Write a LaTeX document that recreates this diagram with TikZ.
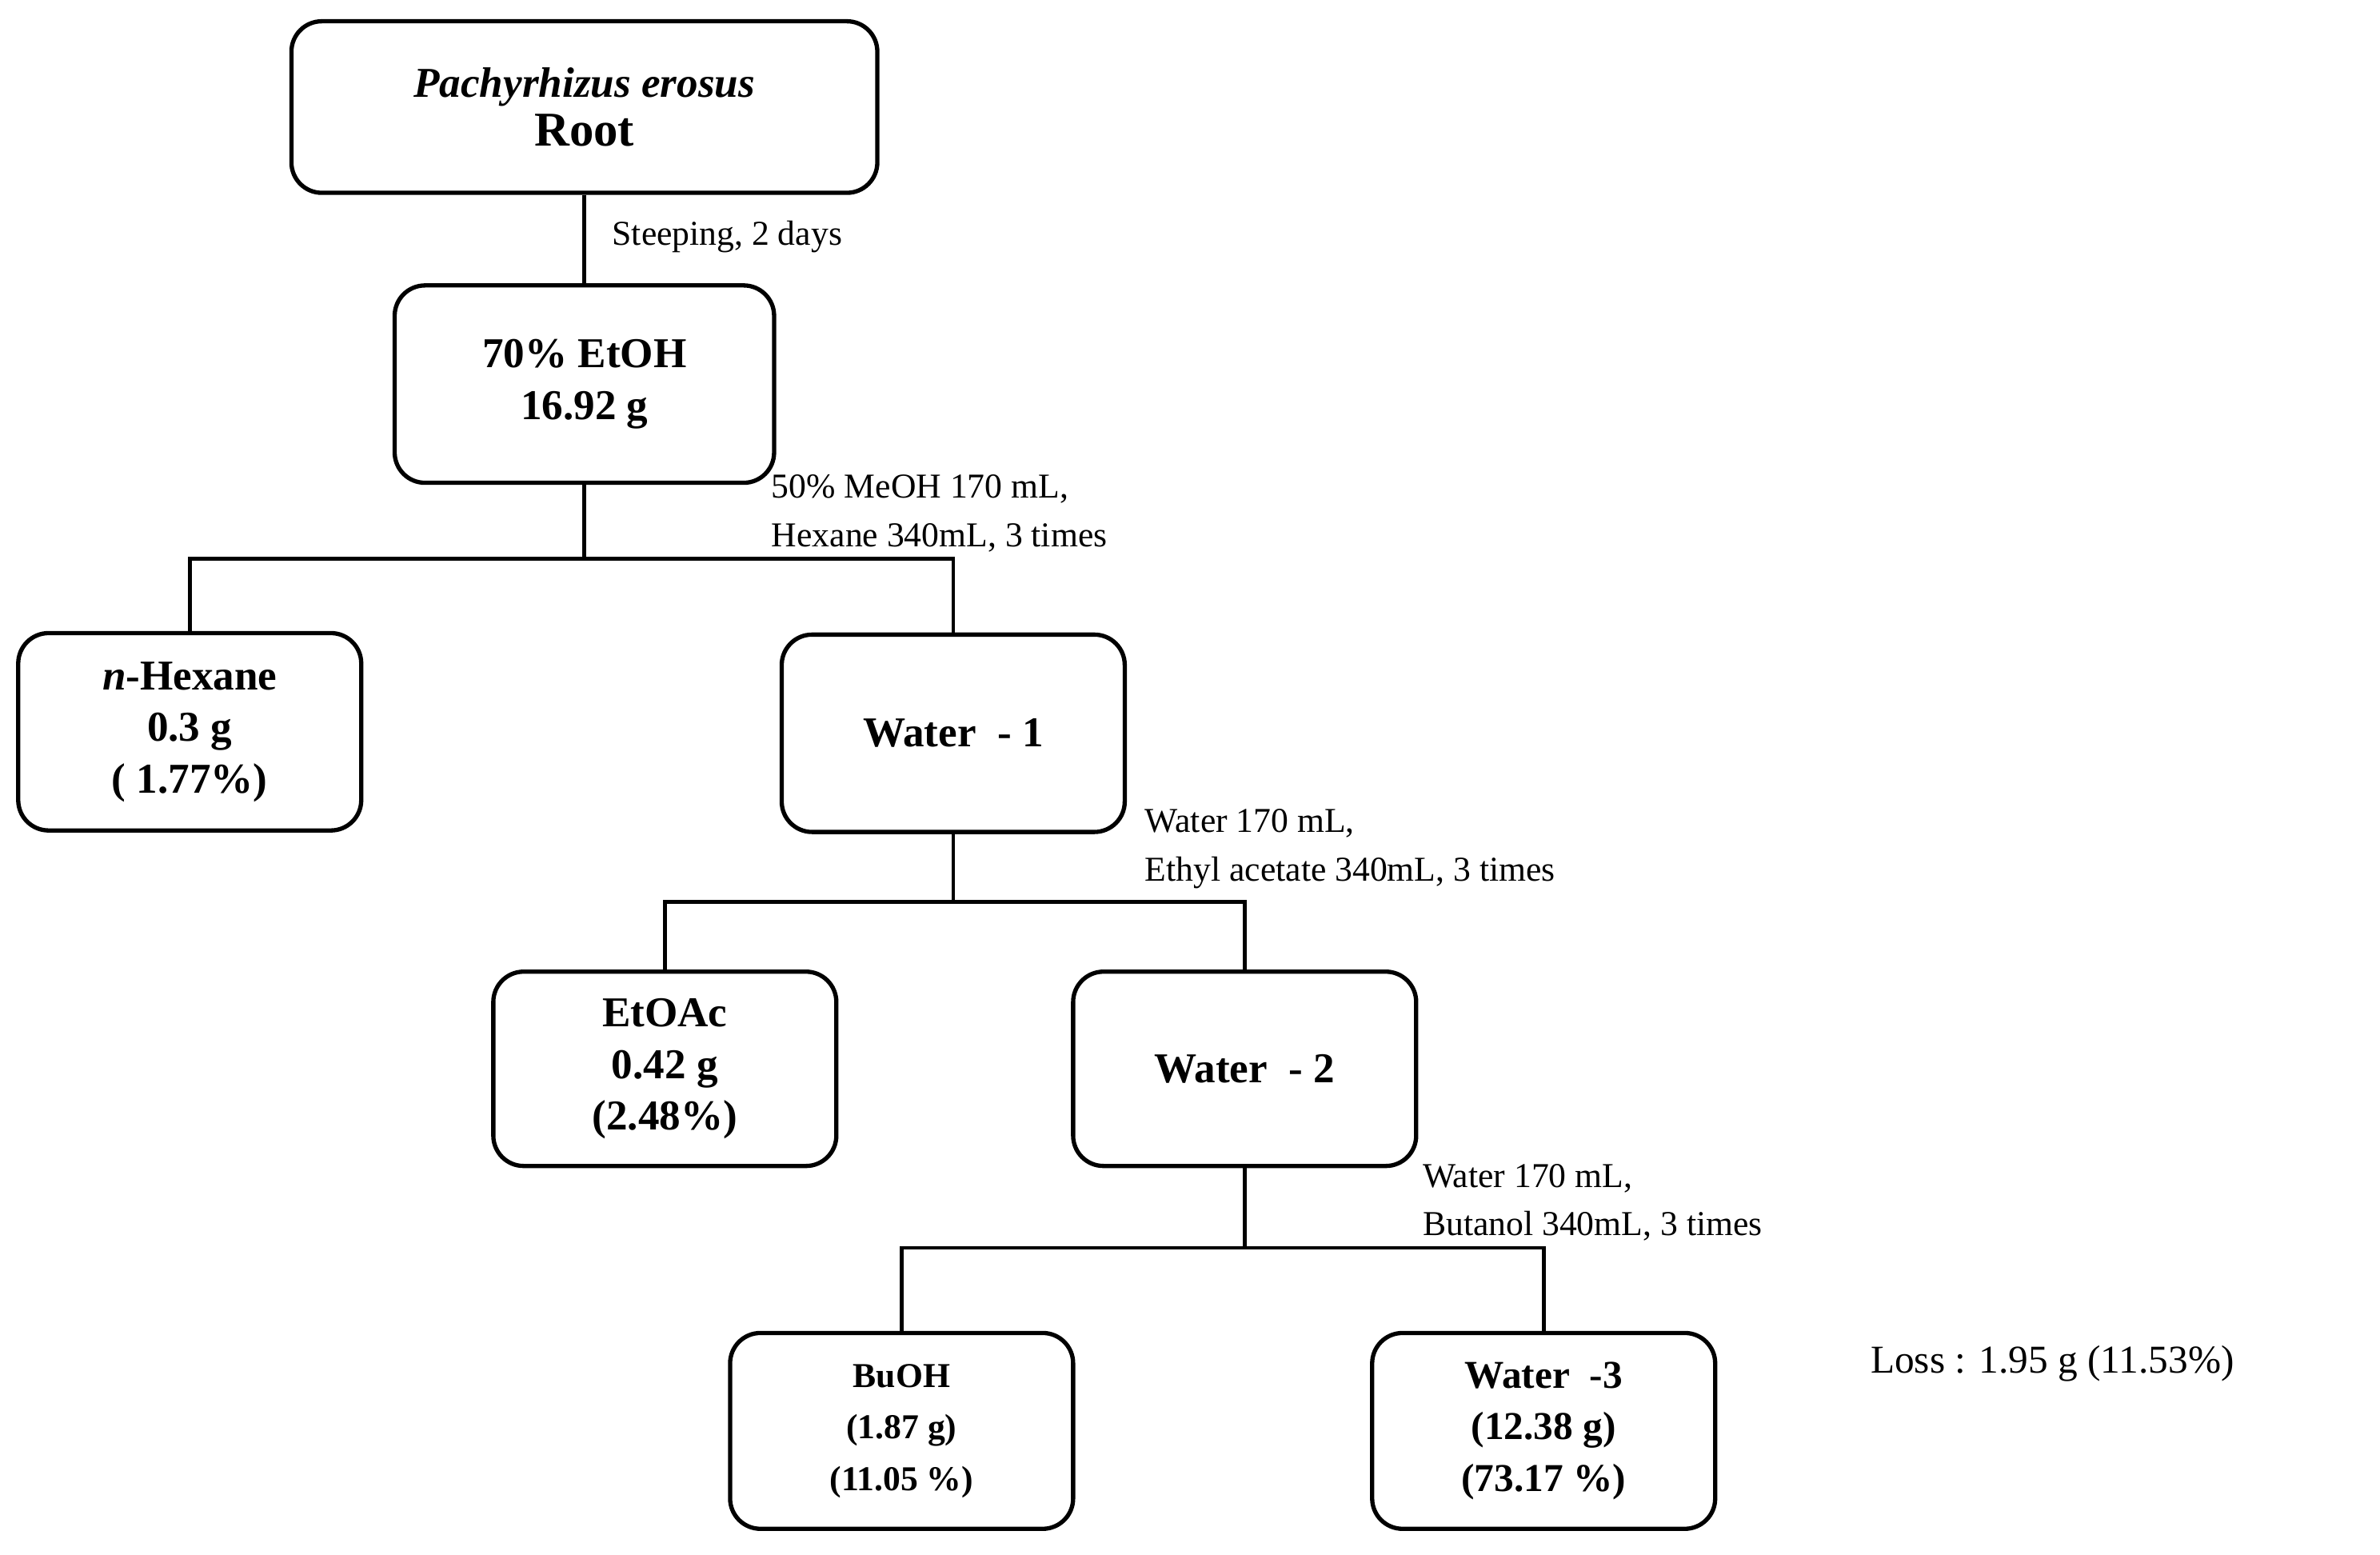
\documentclass[tikz,border=0pt]{standalone}
\usepackage{fontspec}
\setmainfont{Liberation Serif}
\begin{document}
\begin{tikzpicture}[x=0.5pt,y=-0.5pt,
  box/.style={draw,line width=1.4pt,rounded corners=10pt,align=center,font=\bfseries\fontsize{14}{17}\selectfont,inner sep=0pt},
  lab/.style={anchor=west,align=left,font=\fontsize{11.5}{16}\selectfont,inner sep=0pt},
  ln/.style={line width=1.2pt}]
\useasboundingbox (0,0) rectangle (1568,1024);
\newcommand{\bx}[6]{\node[box,minimum width=#4*0.5pt,minimum height=#5*0.5pt] (#1) at (#2,#3) {#6};}
\bx{root}{385}{70.5}{386}{113}{\textit{Pachyrhizus erosus}\\[-1pt]\fontsize{16}{19}\selectfont Root}
\bx{etoh}{385}{253}{250}{130}{70\% EtOH\\16.92 g}
\bx{hex}{125}{482}{226}{130}{\textit{n}-Hexane\\0.3 g\\( 1.77\%)}
\bx{w1}{628}{483}{226}{130}{Water~ - 1}
\bx{ea}{438}{704}{226}{128}{EtOAc\\0.42 g\\(2.48\%)}
\bx{w2}{820}{704}{226}{128}{Water~ - 2}
\bx{bu}{594}{942.5}{226}{129}{\fontsize{11.5}{16}\selectfont BuOH\\\fontsize{11.5}{16}\selectfont(1.87 g)\\\fontsize{11.5}{16}\selectfont(11.05 \%)}
\bx{w3}{1017}{942.5}{226}{129}{\fontsize{13}{18}\selectfont Water~ -3\\\fontsize{13}{18}\selectfont(12.38 g)\\\fontsize{13}{18}\selectfont(73.17 \%)}
\coordinate (j1) at (385,368);
\coordinate (j1l) at (125,368);
\coordinate (j1r) at (628,368);
\coordinate (j2) at (628,594);
\coordinate (j2l) at (438,594);
\coordinate (j2r) at (820,594);
\coordinate (j3) at (820,822);
\coordinate (j3l) at (594,822);
\coordinate (j3r) at (1017,822);
\draw[ln] (root.south) -- (etoh.north);
\draw[ln] (etoh.south) -- (j1);
\draw[ln] (hex.north) -- (j1l) -- (j1r) -- (w1.north);
\draw[ln] (w1.south) -- (j2);
\draw[ln] (ea.north) -- (j2l) -- (j2r) -- (w2.north);
\draw[ln] (w2.south) -- (j3);
\draw[ln] (bu.north) -- (j3l) -- (j3r) -- (w3.north);
\node[lab] (l1) at (403,156) {Steeping, 2 days};
\node[lab] (l2) at (508,338) {50\% MeOH 170 mL,\\Hexane 340mL, 3 times};
\node[lab] (l3) at (754,559) {Water 170 mL,\\Ethyl acetate 340mL, 3 times};
\node[lab] (l4) at (937,792) {Water 170 mL,\\Butanol 340mL, 3 times};
\node[lab,font=\fontsize{13}{16}\selectfont] (loss) at (1232,898) {Loss : 1.95 g (11.53\%)};
\end{tikzpicture}
\end{document}
